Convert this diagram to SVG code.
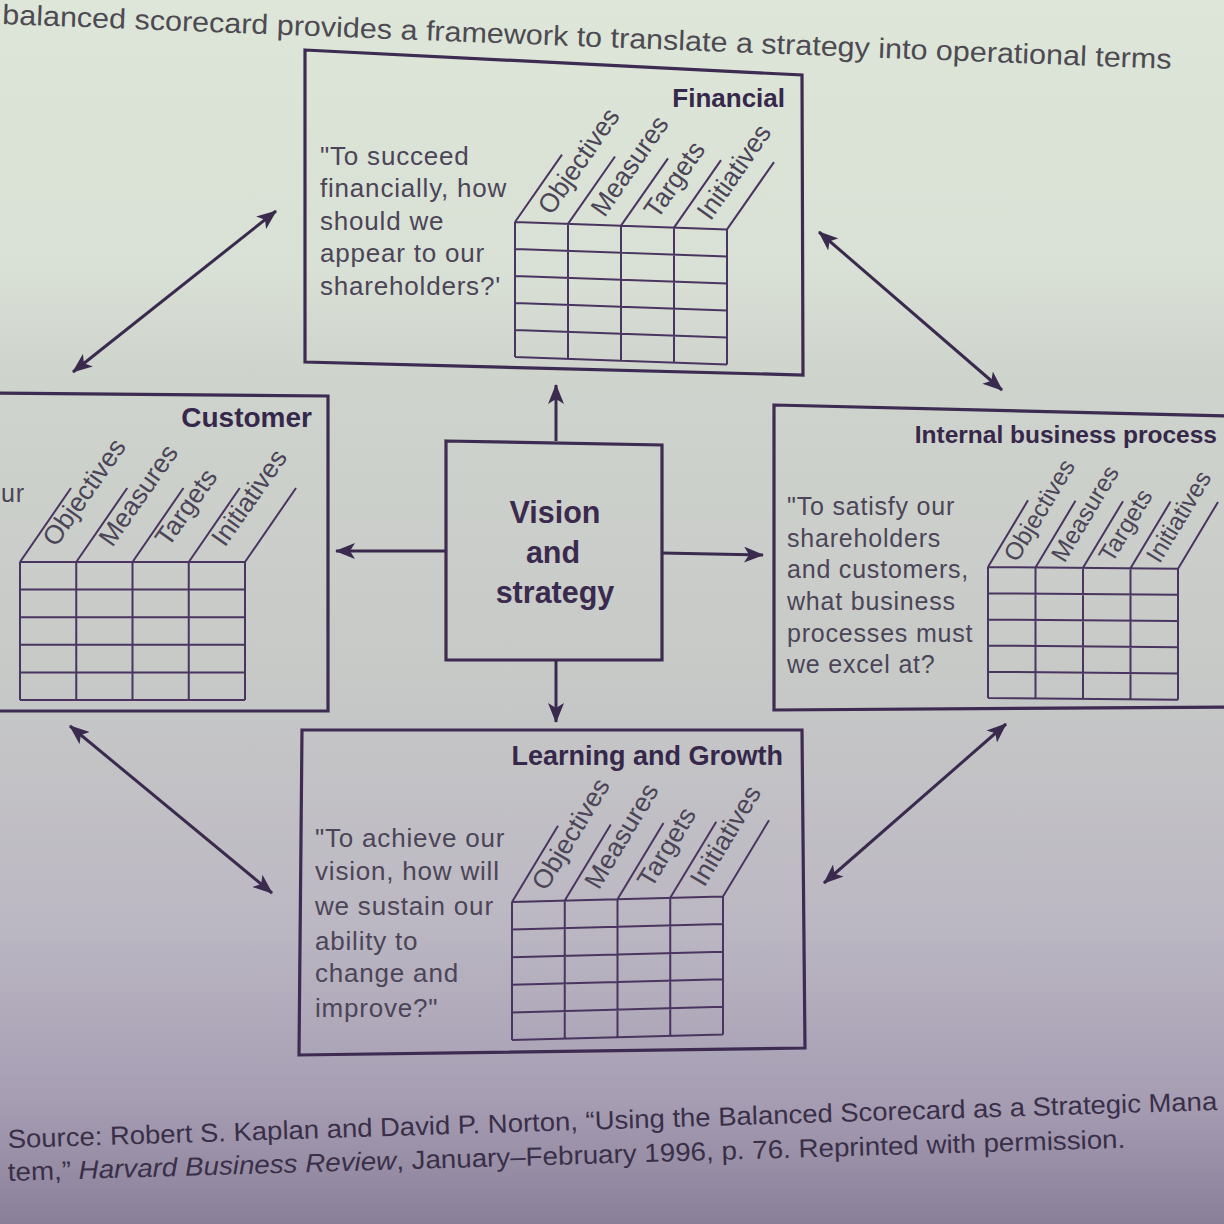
<svg xmlns="http://www.w3.org/2000/svg" width="1224" height="1224" viewBox="0 0 1224 1224">
<defs>
<linearGradient id="bg" x1="0" y1="0" x2="0" y2="1">
<stop offset="0" stop-color="#dde6d9"/>
<stop offset="0.22" stop-color="#d9e0d5"/>
<stop offset="0.30" stop-color="#cfd4cd"/>
<stop offset="0.55" stop-color="#c7c9c7"/>
<stop offset="0.75" stop-color="#bcb8c3"/>
<stop offset="0.9" stop-color="#a69db3"/>
<stop offset="1" stop-color="#8a7f99"/>
</linearGradient>
<marker id="ah" viewBox="0 0 20 16" refX="19" refY="8" markerWidth="20" markerHeight="16" markerUnits="userSpaceOnUse" orient="auto-start-reverse">
<path d="M0,0 L20,8 L0,16 L5,8 z" fill="#3a2a4e"/>
</marker>
<style>
.box{fill:none;stroke:#3d2b52;stroke-width:3.2;stroke-linejoin:miter}
.grid{fill:none;stroke:#4a3560;stroke-width:2}
.conn{fill:none;stroke:#3a2a4e;stroke-width:3}
.title{font-family:"Liberation Sans",Arial,sans-serif;font-weight:bold;fill:#36284a;text-anchor:end}
.q{font-family:"Liberation Sans",Arial,sans-serif;fill:#4b4557;font-size:25px;letter-spacing:0.8px}
.q26{font-size:26px}
.lab{font-family:"Liberation Sans",Arial,sans-serif;fill:#4b4557}
.center{font-family:"Liberation Sans",Arial,sans-serif;font-weight:bold;font-size:30.5px;fill:#3a2a4e;text-anchor:middle}
.hdr{font-family:"Liberation Sans",Arial,sans-serif;font-size:28px;fill:#4d4a52}
.cap{font-family:"Liberation Sans",Arial,sans-serif;font-size:26px;fill:#3a2f48}
</style>
</defs>
<rect x="0" y="0" width="1224" height="1224" fill="url(#bg)"/>

<text class="hdr" transform="translate(2,24) rotate(2.2)" x="0" y="0" textLength="1170" lengthAdjust="spacingAndGlyphs">balanced scorecard provides a framework to translate a strategy into operational terms</text>

<g id="financial">
<polygon class="box" points="305,50 802,75 803,375 305,362"/>
<text class="title" x="785" y="107" font-size="26">Financial</text>
<text class="q q26" x="320" y="165">"To succeed</text>
<text class="q q26" x="320" y="197">financially, how</text>
<text class="q q26" x="320" y="230">should we</text>
<text class="q q26" x="320" y="262">appear to our</text>
<text class="q q26" x="320" y="295">shareholders?'</text>
<g transform="translate(515,222) skewY(2)">
<path class="grid" d="M0,0V135M53,0V135M106,0V135M159,0V135M212,0V135M0,0H212M0,27H212M0,54H212M0,81H212M0,108H212M0,135H212M0,0l47,-69M53,0l47,-69M106,0l47,-69M159,0l47,-69M212,0l47,-69"/>
<g class="lab" font-size="26.5">
<text transform="translate(36.5,-7) rotate(-56)">Objectives</text>
<text transform="translate(89.5,-7) rotate(-56)">Measures</text>
<text transform="translate(142.5,-7) rotate(-56)">Targets</text>
<text transform="translate(195.5,-7) rotate(-56)">Initiatives</text>
</g>
</g>
</g>

<g id="customer">
<polygon class="box" points="-5,393 328,396 328,711 -5,711"/>
<text class="title" x="312" y="427" font-size="28">Customer</text>
<text class="q" x="1" y="502">ur</text>
<g transform="translate(20,562)">
<path class="grid" d="M0,0V138M56.25,0V138M112.5,0V138M168.75,0V138M225,0V138M0,0H225M0,27.6H225M0,55.2H225M0,82.8H225M0,110.4H225M0,138H225M0,0l51,-74M56.25,0l51,-74M112.5,0l51,-74M168.75,0l51,-74M225,0l51,-74"/>
<g class="lab" font-size="26.5">
<text transform="translate(36,-14) rotate(-55)">Objectives</text>
<text transform="translate(92.25,-14) rotate(-55)">Measures</text>
<text transform="translate(148.5,-14) rotate(-55)">Targets</text>
<text transform="translate(204.75,-14) rotate(-55)">Initiatives</text>
</g>
</g>
</g>

<g id="internal">
<polygon class="box" points="774,405 1232,416 1232,707 774,710"/>
<text class="title" x="1217" y="443" font-size="24.5">Internal business process</text>
<text class="q" x="787" y="515">"To satisfy our</text>
<text class="q" x="787" y="547">shareholders</text>
<text class="q" x="787" y="578">and customers,</text>
<text class="q" x="787" y="610">what business</text>
<text class="q" x="787" y="642">processes must</text>
<text class="q" x="787" y="673">we excel at?</text>
<g transform="translate(988,567) skewY(0.5)">
<path class="grid" d="M0,0V131M47.5,0V131M95,0V131M142.5,0V131M190,0V131M0,0H190M0,26.2H190M0,52.4H190M0,78.6H190M0,104.8H190M0,131H190M0,0l40,-67M47.5,0l40,-67M95,0l40,-67M142.5,0l40,-67M190,0l40,-67"/>
<g class="lab" font-size="24.5">
<text transform="translate(29,-4) rotate(-59)">Objectives</text>
<text transform="translate(76.5,-4) rotate(-59)">Measures</text>
<text transform="translate(124,-4) rotate(-59)">Targets</text>
<text transform="translate(171.5,-4) rotate(-59)">Initiatives</text>
</g>
</g>
</g>

<g id="learning">
<polygon class="box" points="302,730 802,730 805,1048 299,1055"/>
<text class="title" x="783" y="765" font-size="27">Learning and Growth</text>
<text class="q q26" x="315" y="847">"To achieve our</text>
<text class="q q26" x="315" y="880">vision, how will</text>
<text class="q q26" x="315" y="915">we sustain our</text>
<text class="q q26" x="315" y="950">ability to</text>
<text class="q q26" x="315" y="982">change and</text>
<text class="q q26" x="315" y="1017">improve?"</text>
<g transform="translate(512,902) skewY(-1.5)">
<path class="grid" d="M0,0V138M52.75,0V138M105.5,0V138M158.25,0V138M211,0V138M0,0H211M0,27.6H211M0,55.2H211M0,82.8H211M0,110.4H211M0,138H211M0,0l46,-75M52.75,0l46,-75M105.5,0l46,-75M158.25,0l46,-75M211,0l46,-75"/>
<g class="lab" font-size="26.5">
<text transform="translate(34,-9) rotate(-58.5)">Objectives</text>
<text transform="translate(86.75,-9) rotate(-58.5)">Measures</text>
<text transform="translate(139.5,-9) rotate(-58.5)">Targets</text>
<text transform="translate(192.25,-9) rotate(-58.5)">Initiatives</text>
</g>
</g>
</g>

<g id="vision">
<polygon class="box" points="446,441 662,445 662,660 446,660"/>
<text class="center" x="555" y="523">Vision</text>
<text class="center" x="553" y="563">and</text>
<text class="center" x="555" y="603">strategy</text>
</g>

<g id="connectors">
<line class="conn" x1="556" y1="441" x2="556" y2="385" marker-end="url(#ah)"/>
<line class="conn" x1="446" y1="551" x2="336" y2="551" marker-end="url(#ah)"/>
<line class="conn" x1="662" y1="553" x2="763" y2="555" marker-end="url(#ah)"/>
<line class="conn" x1="556" y1="660" x2="556" y2="722" marker-end="url(#ah)"/>
<line class="conn" x1="73" y1="372" x2="276" y2="211" marker-start="url(#ah)" marker-end="url(#ah)"/>
<line class="conn" x1="819" y1="232" x2="1002" y2="390" marker-start="url(#ah)" marker-end="url(#ah)"/>
<line class="conn" x1="70" y1="726" x2="272" y2="893" marker-start="url(#ah)" marker-end="url(#ah)"/>
<line class="conn" x1="1006" y1="724" x2="824" y2="883" marker-start="url(#ah)" marker-end="url(#ah)"/>
</g>

<text class="cap" transform="translate(8,1148) rotate(-1.8)" x="0" y="0" textLength="1210" lengthAdjust="spacingAndGlyphs">Source: Robert S. Kaplan and David P. Norton, “Using the Balanced Scorecard as a Strategic Mana</text>
<text class="cap" transform="translate(8,1181) rotate(-1.7)" x="0" y="0" textLength="1118" lengthAdjust="spacingAndGlyphs">tem,” <tspan font-style="italic">Harvard Business Review</tspan>, January–February 1996, p. 76. Reprinted with permission.</text>
</svg>
